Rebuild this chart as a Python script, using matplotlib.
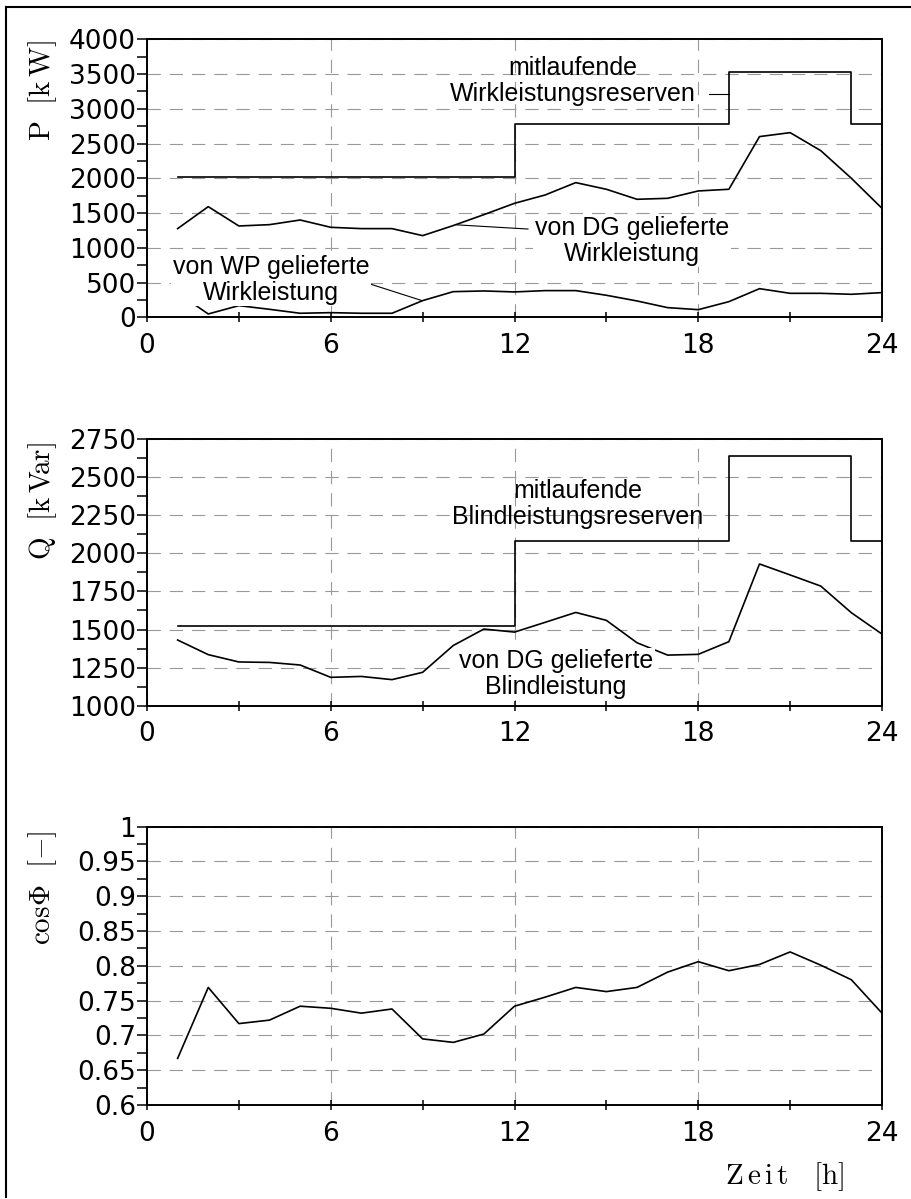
import matplotlib
matplotlib.use("Agg")
import matplotlib.pyplot as plt
from matplotlib.lines import Line2D

plt.rcParams['mathtext.fontset'] = 'cm'

hours = list(range(1, 25))
p_dg = [1276, 1592, 1314, 1333, 1400, 1295, 1276, 1276, 1175, 1320, 1477, 1640,
        1760, 1938, 1842, 1698, 1712, 1818, 1842, 2600, 2657, 2398, 2000, 1568]
p_wp = [350, 48, 168, 115, 58, 67, 58, 58, 240, 369, 379, 365,
        384, 384, 317, 235, 139, 110, 225, 412, 345, 345, 331, 355]
q_dg = [1431, 1335, 1287, 1284, 1267, 1186, 1192, 1171, 1219, 1395, 1503, 1483,
        1547, 1612, 1560, 1413, 1332, 1337, 1420, 1930, 1858, 1785, 1610, 1470]
cosphi = [0.667, 0.769, 0.717, 0.722, 0.742, 0.739, 0.732, 0.738, 0.695, 0.690, 0.702, 0.742,
          0.755, 0.769, 0.763, 0.769, 0.791, 0.806, 0.793, 0.802, 0.820, 0.801, 0.780, 0.732]

res_hours = [1, 12, 19, 23, 24]
p_res = [2025, 2775, 3530, 2775, 2775]
q_res = [1523, 2081, 2641, 2081, 2081]

x_ticks = [0, 6, 12, 18, 24]

fig = plt.figure(figsize=(9.12, 11.99), dpi=100)

W, H = 912, 1199


def make_ax(top_px, bottom_px):
    return fig.add_axes([147 / W, 1 - bottom_px / H, 735 / W, (bottom_px - top_px) / H])


def style(ax, ylim, major, minor):
    ax.set_xlim(0, 24)
    ax.set_ylim(*ylim)
    ax.set_xticks(x_ticks)
    ax.set_xticks([3, 9, 15, 21], minor=True)
    n_major = int(round((ylim[1] - ylim[0]) / major))
    n_minor = int(round((ylim[1] - ylim[0]) / minor))
    ax.set_yticks([ylim[0] + i * major for i in range(n_major + 1)])
    ax.set_yticks([ylim[0] + i * minor for i in range(n_minor + 1)], minor=True)
    ax.tick_params(axis='x', which='both', direction='inout', length=6.5, width=1.1, labelsize=19, pad=8)
    ax.tick_params(axis='y', which='both', direction='out', length=7, width=1.1, labelsize=19, pad=1)
    ax.grid(True, which='major', color='#999999', linestyle=(0, (12, 8)), linewidth=0.8)
    for s in ax.spines.values():
        s.set_linewidth(1.4)
    ax.set_axisbelow(True)


bbox = dict(facecolor='white', edgecolor='none', pad=1)
tfont = dict(family='Liberation Sans', fontsize=18, ha='center', va='center', linespacing=1.1)

# P
ax1 = make_ax(39.3, 317.3)
style(ax1, (0, 4000), 500, 250)
ax1.set_yticklabels([str(v) for v in range(0, 4001, 500)])
ax1.plot(res_hours, p_res, drawstyle='steps-post', color='black', lw=1.2)
ax1.plot(hours, p_dg, color='black', lw=1.2)
ax1.plot(hours, p_wp, color='black', lw=1.2)
ax1.text(13.9, 3400, "mitlaufende\nWirkleistungsreserven", **tfont)
ax1.plot([18.35, 19.0], [3213, 3213], color='black', lw=0.8)
ax1.text(15.84, 1098, "von DG gelieferte\nWirkleistung", bbox=bbox, **tfont)
ax1.plot([12.44, 10.12], [1270, 1330], color='black', lw=0.8)
ax1.text(4.05, 537, "von WP gelieferte\nWirkleistung", bbox=bbox, zorder=3, **tfont)
ax1.plot([7.18, 8.98], [494, 240], color='black', lw=0.8)

# Q
ax2 = make_ax(439, 705.7)
style(ax2, (1000, 2750), 250, 125)
ax2.plot(res_hours, q_res, drawstyle='steps-post', color='black', lw=1.2)
ax2.plot(hours, q_dg, color='black', lw=1.2)
ax2.text(14.07, 2323, "mitlaufende\nBlindleistungsreserven", **tfont)
ax2.text(13.36, 1208, "von DG gelieferte\nBlindleistung", bbox=bbox, **tfont)

# cos phi
ax3 = make_ax(826.7, 1105)
style(ax3, (0.6, 1.0), 0.05, 0.025)
ax3.set_yticklabels(['0.6', '0.65', '0.7', '0.75', '0.8', '0.85', '0.9', '0.95', '1'])
ax3.plot(hours, cosphi, color='black', lw=1.2)

# axis labels
fig.text(43 / W, 1 - 40 / H, r"$\mathrm{P\ \ [k\,W]}$", rotation=90, ha='center', va='top', fontsize=21)
fig.text(43 / W, 1 - 442 / H, r"$\mathrm{Q\ \ [k\,V\!ar]}$", rotation=90, ha='center', va='top', fontsize=21)
fig.text(43 / W, 1 - 830 / H, r"$\mathrm{cos}\Phi\ \ [-]$", rotation=90, ha='center', va='top', fontsize=21)
fig.text(785 / W, 1 - 1177 / H, r"$\mathrm{Z\,e\,i\,t\ \ \ [h]}$", ha='center', va='center', fontsize=21)

# outer frame (top and left)
fig.add_artist(Line2D([6.5 / W, 6.5 / W], [1 - 7 / H, 1 - 1197 / H], color='black', lw=1.5))
fig.add_artist(Line2D([6 / W, 1.0], [1 - 7 / H, 1 - 7 / H], color='black', lw=1.5))

fig.savefig("out.png", dpi=100)
